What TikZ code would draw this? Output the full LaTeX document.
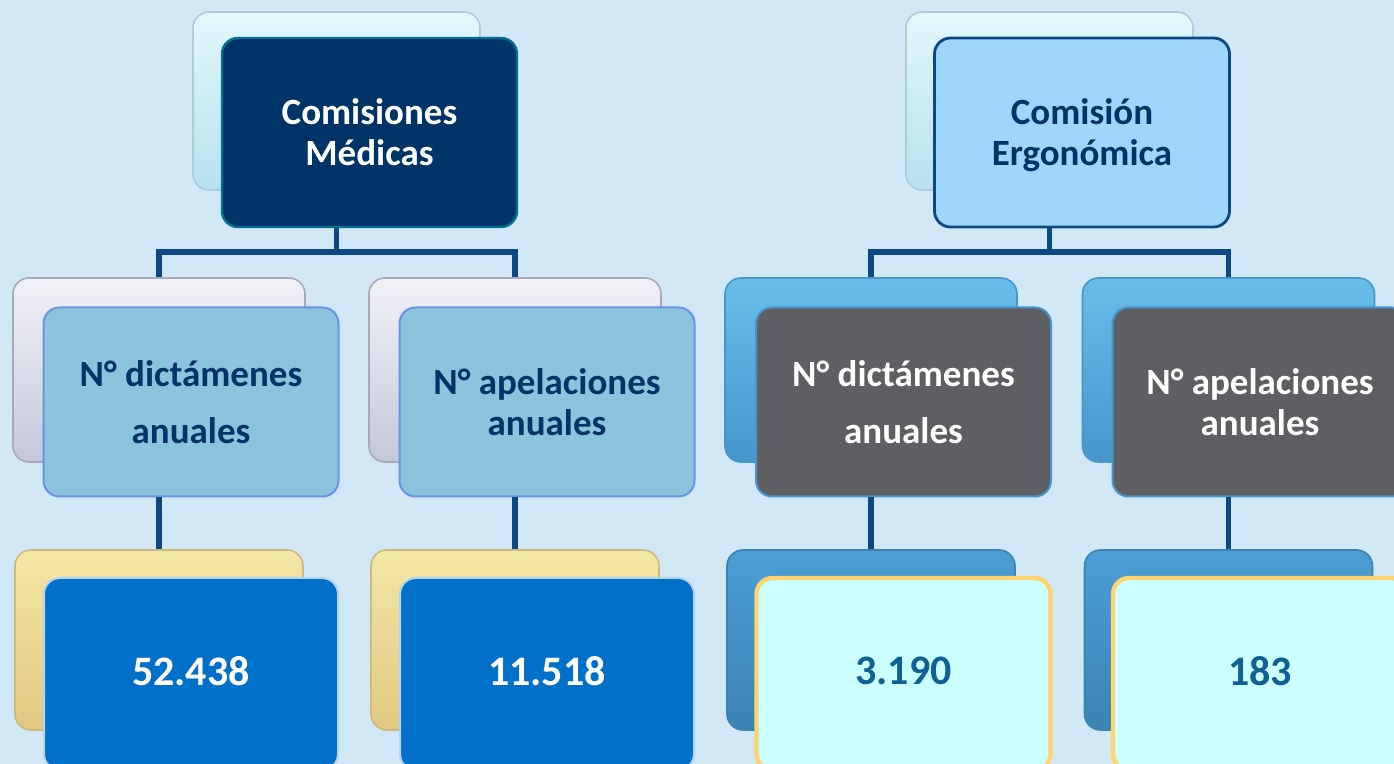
\documentclass[tikz,border=0pt]{standalone}
\usepackage{fontspec}
\setmainfont{Carlito}
\usetikzlibrary{positioning}
\definecolor{bgc}{RGB}{210,232,246}
\definecolor{navy}{RGB}{0,51,102}
\definecolor{linec}{RGB}{12,72,132}
\definecolor{hdrbackA}{RGB}{226,248,252}
\definecolor{hdrbackB}{RGB}{184,226,238}
\definecolor{grayA}{RGB}{242,242,248}
\definecolor{grayB}{RGB}{196,200,218}
\definecolor{lblue}{RGB}{140,196,222}
\definecolor{yelA}{RGB}{243,232,165}
\definecolor{yelB}{RGB}{226,200,130}
\definecolor{vblue}{RGB}{0,112,200}
\definecolor{hdrR}{RGB}{158,215,251}
\definecolor{bluA}{RGB}{104,190,232}
\definecolor{bluB}{RGB}{70,150,205}
\definecolor{dgray}{RGB}{94,94,99}
\definecolor{vbA}{RGB}{76,158,212}
\definecolor{vbB}{RGB}{60,130,180}
\definecolor{pcyan}{RGB}{204,255,255}
\definecolor{gold}{RGB}{255,212,110}
\definecolor{tealtxt}{RGB}{16,96,150}
\tikzset{
  x=0.5pt, y=-0.5pt,
  box/.style={rounded corners=8pt, inner sep=0pt, align=center, font=\bfseries\fontsize{18.5}{20.5}\selectfont},
  backhdr/.style={box, minimum width=143.5pt, minimum height=89pt, top color=hdrbackA, bottom color=hdrbackB, draw=hdrbackB!80!gray, line width=0.8pt},
  frontsize/.style={minimum width=147.5pt, minimum height=94.5pt},
  backchild/.style={box, minimum width=146pt, minimum height=92pt, line width=0.8pt},
  backval/.style={box, minimum width=144pt, minimum height=90pt, line width=0.8pt},
  valfront/.style={box, minimum width=147pt, minimum height=96pt, font=\bfseries\fontsize{21}{24}\selectfont},
  conn/.style={draw=linec, line width=2.6pt},
}
\begin{document}
\begin{tikzpicture}
\useasboundingbox (0,0) rectangle (1394,764);
\fill[bgc] (0,0) rectangle (1394,764);
\clip (0,0) rectangle (1394,764);

% ---------------- Left tree ----------------
\node[backhdr] (hbL) at (336.5,101) {};
\node[box, frontsize, fill=navy, draw=navy!70!cyan, line width=1.2pt, text=white] (hL) at (369.5,132.5) {Comisiones\\Médicas};

\node[backchild, top color=grayA, bottom color=grayB, draw=grayB!85!black] (c1bL) at (159,370) {};
\node[backchild, top color=grayA, bottom color=grayB, draw=grayB!85!black] (c2bL) at (515,370) {};
\node[box, frontsize, fill=lblue, draw=lblue!75!blue, line width=1pt, text=navy] (c1L) at (191,402) {N° dictámenes\\[8pt]anuales};
\node[box, frontsize, fill=lblue, draw=lblue!75!blue, line width=1pt, text=navy] (c2L) at (547,402) {N° apelaciones\\anuales};

\node[backval, top color=yelA, bottom color=yelB, draw=yelB!80!gray] (v1bL) at (159,640) {};
\node[backval, top color=yelA, bottom color=yelB, draw=yelB!80!gray] (v2bL) at (515,640) {};
\node[valfront, fill=vblue, draw=white!70!vblue, line width=1pt, text=white] (v1L) at (191,674) {\raisebox{3pt}{52.438}};
\node[valfront, fill=vblue, draw=white!70!vblue, line width=1pt, text=white] (v2L) at (547,674) {\raisebox{3pt}{11.518}};

\coordinate (jL) at (hbL.center |- 0,252);
\draw[conn] (hbL.center |- hL.south) -- (jL);
\draw[conn] (c1bL.north) -- (c1bL.north |- jL) -- (c2bL.north |- jL) -- (c2bL.north);
\draw[conn] (c1bL.north |- c1L.south) -- (v1bL.north);
\draw[conn] (c2bL.north |- c2L.south) -- (v2bL.north);

% ---------------- Right tree ----------------
\node[backhdr] (hbR) at (1049.5,101) {};
\node[box, frontsize, fill=hdrR, draw=linec, line width=1.4pt, text=navy] (hR) at (1082,132.5) {\raisebox{-2.2pt}[\height][\depth]{\begin{tabular}{@{}c@{}}Comisión\\Ergonómica\end{tabular}}};

\node[backchild, top color=bluA, bottom color=bluB, draw=bluB] (c1bR) at (871,370) {};
\node[backchild, top color=bluA, bottom color=bluB, draw=bluB] (c2bR) at (1228.5,370) {};
\node[box, frontsize, fill=dgray, draw=bluB, line width=1pt, text=white] (c1R) at (903.5,402) {N° dictámenes\\[8pt]anuales};
\node[box, frontsize, fill=dgray, draw=bluB, line width=1pt, text=white] (c2R) at (1260,402) {N° apelaciones\\anuales};

\node[backval, top color=vbA, bottom color=vbB, draw=vbB] (v1bR) at (871,640) {};
\node[backval, top color=vbA, bottom color=vbB, draw=vbB] (v2bR) at (1228.5,640) {};
\node[valfront, fill=pcyan, draw=gold, line width=2.2pt, text=tealtxt] (v1R) at (903.5,674) {\raisebox{3pt}{3.190}};
\node[valfront, fill=pcyan, draw=gold, line width=2.2pt, text=tealtxt] (v2R) at (1260,674) {\raisebox{3pt}{183}};

\coordinate (jR) at (hbR.center |- 0,252);
\draw[conn] (hbR.center |- hR.south) -- (jR);
\draw[conn] (c1bR.north) -- (c1bR.north |- jR) -- (c2bR.north |- jR) -- (c2bR.north);
\draw[conn] (c1bR.north |- c1R.south) -- (v1bR.north);
\draw[conn] (c2bR.north |- c2R.south) -- (v2bR.north);
\end{tikzpicture}
\end{document}
